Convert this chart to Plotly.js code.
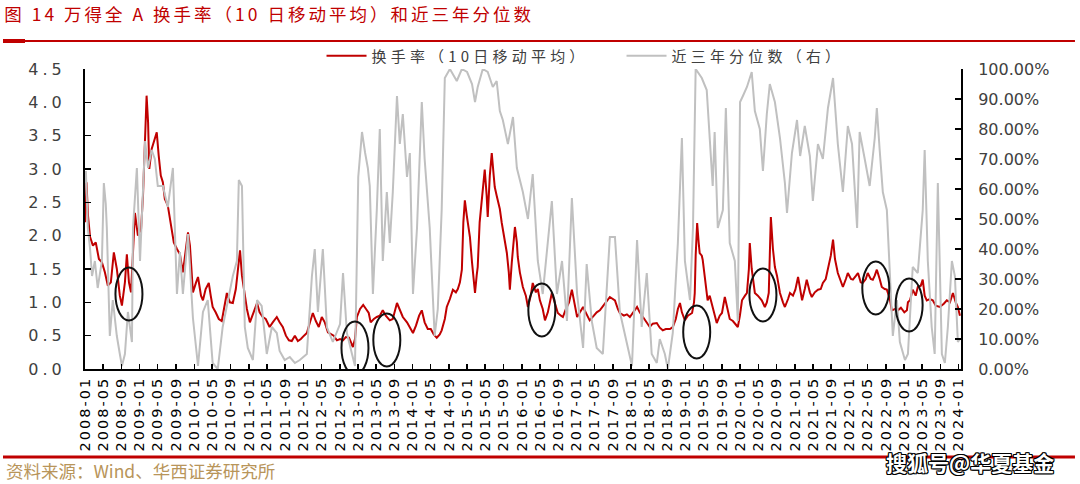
<!DOCTYPE html>
<html>
<head>
<meta charset="utf-8">
<script src="https://cdn.plot.ly/plotly-3.0.1.min.js"></script>
<style>
html,body{margin:0;padding:0;background:#fff;}
#chart{width:1080px;height:484px;}
.gtitle{letter-spacing:3px;}
.legendtext{letter-spacing:4.2px;}
.xtick text{letter-spacing:2px;}
.ytick text{letter-spacing:4px;}
</style>
</head>
<body>
<div id="chart"></div>
<script>
// ---- Data ----
const turnDates = [
'2008-01-02','2008-01-11','2008-01-21','2008-02-04','2008-02-23','2008-03-13','2008-04-03','2008-04-23','2008-05-13','2008-06-02','2008-06-22','2008-07-12','2008-08-01','2008-08-21','2008-09-04','2008-09-24','2008-10-07','2008-10-21','2008-11-04','2008-11-17','2008-11-30','2008-12-20',
'2009-01-10','2009-01-23','2009-02-06','2009-02-16','2009-02-26','2009-03-06','2009-03-22','2009-04-12','2009-04-25','2009-05-08','2009-05-22','2009-06-05','2009-06-18','2009-07-08','2009-07-28','2009-08-17','2009-09-07','2009-09-27','2009-10-17','2009-11-07','2009-11-20','2009-12-03','2009-12-23',
'2010-01-13','2010-01-26','2010-02-15','2010-02-28','2010-03-18','2010-04-08','2010-04-21','2010-05-04','2010-05-24','2010-06-14','2010-07-04','2010-07-24','2010-08-07','2010-08-27','2010-09-16','2010-10-06','2010-10-19','2010-11-03','2010-11-16','2010-11-29','2010-12-19',
'2011-01-08','2011-01-28','2011-02-25','2011-03-14','2011-04-04','2011-04-24','2011-05-20','2011-06-10','2011-07-07','2011-07-26','2011-08-16','2011-09-06','2011-09-26','2011-10-15','2011-11-05','2011-11-25','2011-12-15',
'2012-01-05','2012-01-24','2012-02-14','2012-03-04','2012-03-24','2012-04-13','2012-05-03','2012-05-23','2012-06-13','2012-07-03','2012-07-22','2012-08-12','2012-09-02','2012-09-22','2012-10-11','2012-11-01','2012-11-14','2012-11-27','2012-12-11','2012-12-24',
'2013-01-14','2013-02-04','2013-02-23','2013-03-13','2013-03-26','2013-04-16','2013-05-06','2013-05-26','2013-06-15','2013-07-05','2013-08-01','2013-08-21','2013-09-18','2013-10-07','2013-10-27','2013-11-24','2013-12-13',
'2014-01-03','2014-01-23','2014-02-13','2014-03-03','2014-03-22','2014-04-12','2014-05-02','2014-05-22','2014-06-11','2014-07-01','2014-07-14','2014-08-04','2014-08-17','2014-09-07','2014-09-27','2014-10-17','2014-10-30','2014-11-13','2014-11-26','2014-12-06','2014-12-16','2014-12-29',
'2015-01-19','2015-02-02','2015-02-15','2015-02-22','2015-03-05','2015-03-12','2015-03-25','2015-04-08','2015-04-21','2015-04-28','2015-05-11','2015-05-18','2015-06-01','2015-06-14','2015-06-27','2015-07-04','2015-07-17','2015-07-24','2015-08-07','2015-08-20','2015-09-03','2015-09-23','2015-10-06','2015-10-13','2015-10-26','2015-11-09','2015-11-16','2015-11-29','2015-12-05','2015-12-19',
'2016-01-08','2016-01-28','2016-02-11','2016-03-01','2016-03-14','2016-04-04','2016-04-17','2016-05-01','2016-05-20','2016-06-04','2016-06-23','2016-07-20','2016-08-10','2016-08-29','2016-09-19','2016-10-02','2016-10-22','2016-11-12','2016-12-01','2016-12-21',
'2017-01-05','2017-01-24','2017-02-14','2017-03-10','2017-03-30','2017-04-27','2017-05-16','2017-06-06','2017-06-26','2017-07-16','2017-08-12','2017-09-02','2017-09-15','2017-10-05','2017-10-18','2017-11-14','2017-12-04','2017-12-24',
'2018-01-14','2018-02-10','2018-02-28','2018-03-20','2018-04-16','2018-05-06','2018-05-26','2018-06-22','2018-07-12','2018-08-01','2018-08-21','2018-09-18','2018-10-07','2018-10-27','2018-11-10','2018-11-24','2018-12-07','2018-12-27',
'2019-01-16','2019-02-13','2019-02-26','2019-03-03','2019-03-09','2019-03-19','2019-03-29','2019-04-05','2019-04-19','2019-04-25','2019-05-08','2019-05-28','2019-06-11','2019-07-01','2019-07-14','2019-07-28','2019-08-17','2019-09-01','2019-09-20','2019-10-04','2019-10-23','2019-11-13','2019-11-26','2019-12-16','2019-12-30',
'2020-01-13','2020-02-02','2020-02-15','2020-02-28','2020-03-05','2020-03-18','2020-04-08','2020-04-28','2020-05-24','2020-06-14','2020-06-27','2020-07-10','2020-07-17','2020-07-24','2020-08-07','2020-08-20','2020-09-03','2020-09-23','2020-10-13','2020-10-26','2020-11-16','2020-11-29','2020-12-19',
'2021-01-04','2021-01-22','2021-02-05','2021-02-18','2021-03-08','2021-03-21','2021-04-11','2021-04-24','2021-05-14','2021-06-04','2021-06-23','2021-07-07','2021-07-26','2021-08-10','2021-08-29','2021-09-13','2021-09-26','2021-10-15','2021-11-05','2021-11-18','2021-12-08','2021-12-21',
'2022-01-11','2022-01-24','2022-02-14','2022-02-27','2022-03-17','2022-03-30','2022-04-20','2022-05-03','2022-05-23','2022-06-06','2022-06-19','2022-07-03','2022-07-22','2022-08-05','2022-08-25','2022-09-08','2022-09-28','2022-10-11','2022-11-01','2022-11-21','2022-12-11',
'2023-01-03','2023-01-20','2023-01-27','2023-02-10','2023-02-28','2023-03-20','2023-04-03','2023-04-23','2023-05-06','2023-05-19','2023-06-02','2023-06-22','2023-07-12','2023-08-01','2023-08-28','2023-09-24','2023-10-14','2023-11-04','2023-11-24','2023-12-13','2023-12-27','2024-01-10'
];
const turnover = [
2.2,2.8,2.3,1.98,1.85,1.9,1.65,1.6,1.45,1.25,1.3,1.75,1.5,1.1,0.95,1.3,1.72,1.3,1.15,1.7,2.34,2.0,
2.1,2.6,3.6,4.1,3.7,3.0,3.3,3.45,3.55,3.2,2.9,2.8,2.55,2.45,2.2,1.9,1.8,1.72,1.45,1.8,2.05,1.85,1.15,
1.3,1.38,1.1,1.03,1.2,1.29,1.1,0.93,0.85,0.75,0.72,0.95,1.14,1.0,0.99,1.2,1.5,1.78,1.4,1.2,0.9,
0.7,0.82,0.99,0.85,0.78,0.75,0.63,0.7,0.78,0.7,0.63,0.5,0.43,0.42,0.5,0.42,0.45,
0.5,0.54,0.7,0.84,0.72,0.63,0.78,0.7,0.55,0.52,0.5,0.43,0.45,0.43,0.48,0.47,0.4,0.33,0.45,0.78,
0.9,0.96,0.9,0.84,0.7,0.75,0.78,0.8,0.88,0.8,0.73,0.75,0.99,0.9,0.78,0.7,0.62,
0.54,0.65,0.8,0.88,0.7,0.6,0.6,0.52,0.47,0.52,0.58,0.75,0.93,1.05,1.19,1.15,1.2,1.3,1.49,2.2,2.53,2.3,
1.98,1.6,1.2,1.14,1.4,1.53,2.2,2.53,2.8,2.99,2.6,2.28,2.9,3.24,2.9,2.73,2.6,2.53,2.4,2.19,2.0,1.74,1.45,1.19,1.6,2.0,2.13,1.9,1.68,1.45,
1.23,1.1,0.93,1.1,1.29,1.15,1.2,1.03,0.9,0.73,0.85,1.14,1.0,0.84,0.8,0.78,0.9,1.0,1.19,0.95,
0.78,0.85,0.93,0.82,0.73,0.8,0.85,0.88,0.95,1.0,1.08,1.05,1.03,0.9,0.84,0.8,0.82,0.78,
0.85,0.93,0.85,0.78,0.7,0.63,0.68,0.69,0.62,0.58,0.6,0.6,0.63,0.75,0.9,0.99,0.85,0.73,
0.8,0.84,1.0,1.14,1.7,2.19,1.9,1.74,1.7,1.64,1.4,1.03,1.1,0.93,0.8,0.69,0.8,0.84,1.08,0.95,0.75,0.72,0.69,0.63,0.8,
1.03,1.1,1.14,1.5,1.89,1.5,1.14,1.1,1.03,0.93,1.0,1.14,1.6,2.28,1.8,1.53,1.4,1.14,1.0,0.93,1.05,1.14,1.1,
1.19,1.38,1.2,1.03,1.2,1.34,1.15,1.08,1.15,1.19,1.2,1.29,1.35,1.49,1.7,1.94,1.65,1.44,1.3,1.23,1.35,1.44,
1.35,1.34,1.4,1.44,1.3,1.29,1.35,1.44,1.35,1.34,1.4,1.49,1.35,1.23,1.2,1.19,1.05,0.88,0.9,0.88,0.92,
0.85,0.88,1.0,1.03,1.19,1.1,1.23,1.25,1.34,1.1,1.03,1.05,1.03,0.95,0.93,0.98,1.03,1.0,1.14,1.0,0.93,0.8
];
const pctDates = [
'2008-01-02','2008-01-07','2008-01-20','2008-02-04','2008-02-17','2008-03-07','2008-03-26','2008-04-23','2008-05-06','2008-05-19','2008-05-26','2008-06-15','2008-07-05','2008-08-01','2008-08-21','2008-09-04','2008-09-24','2008-10-14','2008-11-10','2008-11-17','2008-12-13',
'2009-01-03','2009-02-06','2009-02-26','2009-03-22','2009-04-12','2009-05-02','2009-06-05','2009-07-08','2009-08-11','2009-09-07','2009-09-27','2009-10-17','2009-11-20','2009-12-23',
'2010-01-26','2010-02-28','2010-04-01','2010-05-04','2010-06-07','2010-07-10','2010-08-13','2010-09-16','2010-10-13','2010-10-26','2010-11-16','2010-12-05','2010-12-25',
'2011-01-28','2011-02-25','2011-03-28','2011-05-01','2011-06-04','2011-07-07','2011-07-26','2011-08-29','2011-10-02','2011-11-05','2011-12-08',
'2012-01-24','2012-02-27','2012-03-17','2012-04-07','2012-05-10','2012-06-06','2012-07-16','2012-09-02','2012-09-22','2012-10-18','2012-11-21','2012-12-11',
'2013-01-02','2013-01-27','2013-02-17','2013-03-07','2013-03-20','2013-04-10','2013-05-06','2013-05-26','2013-06-15','2013-07-12','2013-08-01','2013-08-21','2013-09-18','2013-10-07','2013-10-27','2013-11-24','2013-12-13',
'2014-01-03','2014-01-30','2014-03-03','2014-03-22','2014-04-25','2014-05-28','2014-06-18','2014-07-14','2014-08-04','2014-09-07','2014-10-23','2014-11-26','2014-12-31',
'2015-02-02','2015-02-22','2015-03-12','2015-04-15','2015-05-18','2015-06-21','2015-07-17','2015-08-07','2015-08-27','2015-09-30','2015-11-03','2015-11-29',
'2016-01-08','2016-02-11','2016-03-14','2016-04-17','2016-05-20','2016-07-20','2016-08-23','2016-09-26','2016-10-29','2016-12-01',
'2017-01-05','2017-02-14','2017-03-10','2017-04-13','2017-05-16','2017-06-26','2017-08-12','2017-09-15','2017-10-18','2017-12-04',
'2018-01-07','2018-02-10','2018-03-13','2018-04-16','2018-05-19','2018-06-22','2018-07-12','2018-08-15','2018-09-04','2018-10-07','2018-11-10','2018-12-07','2018-12-27',
'2019-01-30','2019-02-19','2019-03-09','2019-04-19','2019-05-22','2019-06-11','2019-07-01','2019-07-14','2019-08-04','2019-09-07','2019-09-27','2019-10-23','2019-11-26','2019-12-16','2019-12-31',
'2020-01-19','2020-02-15','2020-03-18','2020-04-08','2020-05-11','2020-06-01','2020-06-27','2020-07-17','2020-08-20','2020-09-23','2020-10-26','2020-11-09','2020-12-12',
'2021-01-15','2021-02-05','2021-03-08','2021-04-11','2021-05-01','2021-06-04','2021-07-07','2021-08-10','2021-09-13','2021-10-15','2021-11-18','2021-12-21',
'2022-01-18','2022-02-21','2022-03-10','2022-04-13','2022-05-16','2022-06-19','2022-07-03','2022-07-22','2022-08-12','2022-09-08','2022-09-28','2022-10-18','2022-11-14','2022-12-04',
'2023-01-07','2023-01-27','2023-02-28','2023-04-03','2023-05-06','2023-05-19','2023-06-09','2023-07-05','2023-07-25','2023-08-15','2023-09-11','2023-10-01','2023-10-21','2023-11-17','2023-12-07','2023-12-27','2024-01-10'
];
const percentile = [
62,66,47,40,31,36,27,36,62,55,47,11,23,11,5,1,5,19,9,47,67,
36,76,67,73,70,61,61,54,67,25,39,25,45,17,
1,19,23,2,0,14,23,31,36,63,61,14,7,
3,23,21,5,14,12,6,3,4,2,3,
5,31,40,19,40,14,9,15,32,12,5,1,
64,79,72,67,61,25,53,80,36,59,42,59,91,75,85,64,72,
25,47,89,70,47,11,20,53,97,100,96,100,99,
95,89,94,100,99,94,96,86,83,75,84,67,
59,50,65,36,25,56,25,36,16,57,
25,7,35,16,7,5,44,44,19,9,
1,43,14,32,5,2,10,5,0,12,42,77,36,
23,47,100,97,93,75,61,79,47,53,87,42,36,16,89,
91,94,99,86,80,66,85,95,89,77,62,52,72,
83,71,81,71,56,75,70,87,97,75,59,81,
75,47,79,70,61,77,87,73,59,53,31,11,23,9,
3,5,34,32,53,73,36,14,5,62,5,2,14,36,31,9,10
];
// highlighted zones (black ellipses), centred on a date / turnover level
const circleDates  = ['2008-10-21','2012-12-11','2013-07-12','2016-05-14','2019-03-16','2020-06-01','2022-06-26','2023-02-04'];
const circleLevels = [1.125, 0.315, 0.435, 0.885, 0.555, 1.11, 1.215, 0.96];

const seriesNames = ['换手率（10日移动平均）', '近三年分位数（右）'];
const titleText = '图 14 万得全 A 换手率（10 日移动平均）和近三年分位数';
const sourceText = '资料来源：Wind、华西证券研究所';
const watermarkText = '搜狐号@华夏基金';

// ---- Chart ----
const RED = '#C00000';
const GRAY = '#C0C0C0';
const numFont = {family: 'DejaVu Sans, Liberation Sans, sans-serif', size: 16, color: '#404040'};

const traces = [
  {x: turnDates, y: turnover, type: 'scatter', mode: 'lines', name: seriesNames[0],
   line: {color: RED, width: 2}, yaxis: 'y'},
  {x: pctDates, y: percentile, type: 'scatter', mode: 'lines', name: seriesNames[1],
   line: {color: GRAY, width: 2}, yaxis: 'y2'}
];

const shapes = [
  {type: 'line', xref: 'paper', yref: 'paper', x0: -0.0936, x1: 1.1301, y0: 1.0933, y1: 1.0933, line: {color: RED, width: 2}},
  {type: 'line', xref: 'paper', yref: 'paper', x0: -0.0936, x1: -0.0685, y0: 1.0933, y1: 1.0933, line: {color: RED, width: 4}},
  {type: 'line', xref: 'paper', yref: 'paper', x0: -0.0936, x1: 1.1301, y0: -0.2933, y1: -0.2933, line: {color: RED, width: 3}}
];
circleDates.forEach((d, i) => {
  shapes.push({type: 'circle', xref: 'x', yref: 'y', layer: 'above',
    xsizemode: 'pixel', xanchor: d, x0: -13.5, x1: 13.5,
    ysizemode: 'pixel', yanchor: circleLevels[i], y0: -26.5, y1: 26.5,
    line: {color: '#111111', width: 2}});
});

const layout = {
  width: 1080, height: 484,
  margin: {l: 85, r: 119, t: 69, b: 115, pad: 0},
  paper_bgcolor: '#ffffff', plot_bgcolor: '#ffffff',
  showlegend: true,
  title: {text: titleText, xref: 'container', yref: 'container', x: 0.004, xanchor: 'left',
          y: 0.969, yanchor: 'middle',
          font: {family: 'Noto Sans CJK SC, sans-serif', size: 17.5, color: RED}},
  legend: {orientation: 'h', x: 0.270, xanchor: 'left', y: 1.043, yanchor: 'middle',
           font: {family: 'Noto Sans CJK SC, sans-serif', size: 15, color: '#404040'},
           bgcolor: 'rgba(0,0,0,0)', itemwidth: 40, tracegroupgap: 0, entrywidth: 245},
  xaxis: {type: 'date', range: ['2008-01-01', '2024-01-17'],
          tick0: '2008-01-01', dtick: 'M4', tickformat: '%Y-%m', tickangle: -90,
          ticks: 'inside', ticklen: 5, tickwidth: 1.5, tickcolor: '#000',
          showline: true, linecolor: '#000', linewidth: 2, showgrid: false, zeroline: false,
          tickfont: {family: 'DejaVu Sans, sans-serif', size: 14.5, color: '#000'},
          automargin: false},
  yaxis: {range: [0, 4.5], dtick: 0.5, tick0: 0, tickformat: '.1f',
          ticks: 'inside', ticklen: 6, tickwidth: 1.5, tickcolor: '#000',
          showline: true, linecolor: '#000', linewidth: 2, showgrid: false, zeroline: false,
          tickfont: numFont, ticklabelstandoff: 14, automargin: false},
  yaxis2: {range: [0, 100], dtick: 10, tick0: 0, tickformat: '.2f', ticksuffix: '%',
           overlaying: 'y', side: 'right',
           ticks: 'inside', ticklen: 6, tickwidth: 1.5, tickcolor: '#000',
           showline: true, linecolor: '#000', linewidth: 2, showgrid: false, zeroline: false,
           tickfont: numFont, ticklabelstandoff: 12, automargin: false},
  shapes: shapes,
  annotations: [
    {text: sourceText, xref: 'paper', yref: 'paper', x: -0.0925, y: -0.3367,
     xanchor: 'left', yanchor: 'middle', showarrow: false,
     font: {family: 'Noto Sans CJK SC, sans-serif', size: 17.5, color: '#B8955A'}},
    {text: watermarkText, xref: 'paper', yref: 'paper', x: 1.0103, y: -0.31,
     xanchor: 'center', yanchor: 'middle', showarrow: false,
     font: {family: 'Noto Sans CJK SC, sans-serif', size: 21, color: '#ffffff', weight: 700,
            shadow: '1px 1px 0 #000, -1px -1px 0 #000, 1px -1px 0 #000, -1px 1px 0 #000, 0 1px 0 #000, 0 -1px 0 #000, 1px 0 0 #000, -1px 0 0 #000'}}
  ]
};

Plotly.newPlot('chart', traces, layout, {displayModeBar: false, staticPlot: true});
</script>
</body>
</html>
